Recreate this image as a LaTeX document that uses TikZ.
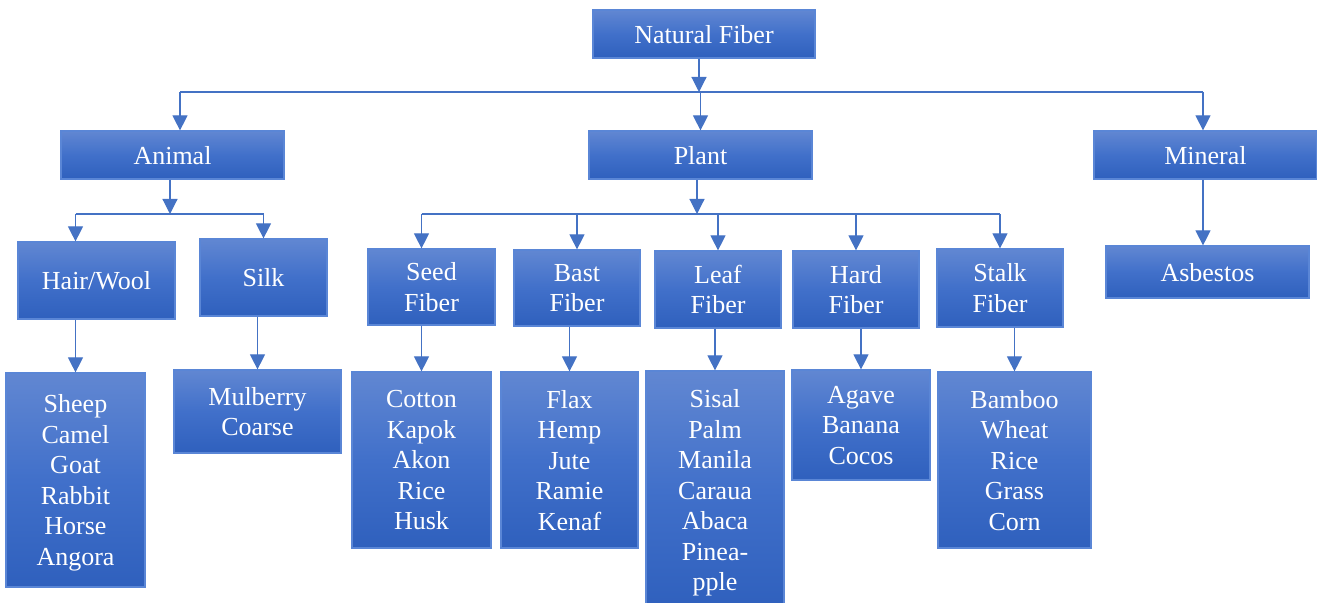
\documentclass[tikz,border=0pt]{standalone}
\usepackage{fontspec}
\setmainfont{Liberation Serif}
\usetikzlibrary{arrows.meta,positioning,calc}
\definecolor{BoxTop}{HTML}{6187D2}
\definecolor{BoxMid}{HTML}{4170CA}
\definecolor{BoxBot}{HTML}{2F60BD}
\definecolor{BoxEdge}{HTML}{5A86D6}
\definecolor{Link}{HTML}{4472C4}
\tikzset{
  arr/.style={-{Triangle[length=7.5pt,width=7.5pt]},line width=0.6pt,draw=Link},
  ln/.style={line width=0.6pt,draw=Link},
  fbox/.style={draw=BoxEdge,line width=0.6pt,top color=BoxTop,bottom color=BoxBot,middle color=BoxMid,text=white,align=center,inner sep=0pt,text depth=-3.5pt,font=\fontsize{13}{15.25}\selectfont}
}
\begin{document}
\begin{tikzpicture}[x=0.5pt,y=-0.5pt]
  \useasboundingbox (0,0) rectangle (1317,603);
  \node[fbox,minimum width=111pt,minimum height=24pt] (nat) at (704,34) {Natural Fiber};
  \node[fbox,minimum width=111.5pt,minimum height=24pt] (animal) at (172.5,155) {Animal};
  \node[fbox,minimum width=111.5pt,minimum height=24pt] (plant) at (700.5,155) {Plant};
  \node[fbox,minimum width=111.5pt,minimum height=24pt] (mineral) at (1205.5,155) {Mineral};
  \node[fbox,minimum width=78.5pt,minimum height=38.5pt] (hair) at (96.5,280.5) {Hair/Wool};
  \node[fbox,minimum width=63.5pt,minimum height=38.5pt] (silk) at (263.5,277.5) {Silk};
  \node[fbox,minimum width=63.5pt,minimum height=38pt] (seed) at (431.5,287) {Seed\\Fiber};
  \node[fbox,minimum width=63pt,minimum height=38pt] (bast) at (577,288) {Bast\\Fiber};
  \node[fbox,minimum width=63pt,minimum height=38.5pt] (leaf) at (718,289.5) {Leaf\\Fiber};
  \node[fbox,minimum width=63pt,minimum height=38.5pt] (hard) at (856,289.5) {Hard\\Fiber};
  \node[fbox,minimum width=63pt,minimum height=39pt] (stalk) at (1000,288) {Stalk\\Fiber};
  \node[fbox,minimum width=101.5pt,minimum height=26pt] (asb) at (1207.5,272) {Asbestos};
  \node[fbox,minimum width=69.5pt,minimum height=107pt] (sheep) at (75.5,480) {Sheep\\Camel\\Goat\\Rabbit\\Horse\\Angora};
  \node[fbox,minimum width=83.5pt,minimum height=41.5pt] (mulb) at (257.5,411.5) {Mulberry\\Coarse};
  \node[fbox,minimum width=69.5pt,minimum height=88pt] (cotton) at (421.5,460) {Cotton\\Kapok\\Akon\\Rice\\Husk};
  \node[fbox,minimum width=68.5pt,minimum height=88pt] (flax) at (569.5,460) {Flax\\Hemp\\Jute\\Ramie\\Kenaf};
  \node[fbox,minimum width=69pt,minimum height=119pt] (sisal) at (715,490) {Sisal\\Palm\\Manila\\Caraua\\Abaca\\Pinea-\\pple};
  \node[fbox,minimum width=69pt,minimum height=55pt] (agave) at (861,425) {Agave\\Banana\\Cocos};
  \node[fbox,minimum width=76.5pt,minimum height=88pt] (bamboo) at (1014.5,460) {Bamboo\\Wheat\\Rice\\Grass\\Corn};
  \coordinate (topbar) at (699,92);
  \coordinate (topl) at (180,92);
  \coordinate (topr) at (1203,92);
  \coordinate (animbar) at (170,214);
  \coordinate (plantbar) at (697,214);
  \draw[arr] (nat.south -| topbar)--(topbar);\draw[ln] (topl)--(topr);
  \draw[arr] (topl)--(topl |- animal.north);\draw[arr] (plant.north |- topl)--(plant.north);\draw[arr] (topr)--(topr |- mineral.north);
  \draw[arr] (animal.south -| animbar)--(animbar);\draw[ln] (sheep |- animbar)--(silk |- animbar);
  \draw[arr] (sheep |- animbar)--(sheep |- hair.north);\draw[arr] (silk |- animbar)--(silk.north);
  \draw[arr] (plant.south -| plantbar)--(plantbar);\draw[ln] (cotton |- plantbar)--(stalk |- plantbar);
  \draw[arr] (cotton |- plantbar)--(cotton |- seed.north);\draw[arr] (bast |- plantbar)--(bast.north);
  \draw[arr] (leaf |- plantbar)--(leaf.north);\draw[arr] (hard |- plantbar)--(hard.north);\draw[arr] (stalk |- plantbar)--(stalk.north);
  \draw[arr] (hair.south -| sheep)--(sheep.north);\draw[arr] (silk.south -| mulb)--(mulb.north);
  \draw[arr] (seed.south -| cotton)--(cotton.north);\draw[arr] (bast.south -| flax)--(flax.north);
  \draw[arr] (leaf.south -| sisal)--(sisal.north);\draw[arr] (hard.south -| agave)--(agave.north);
  \draw[arr] (stalk.south -| bamboo)--(bamboo.north);\draw[arr] (mineral.south -| topr)--(topr |- asb.north);
\end{tikzpicture}
\end{document}
